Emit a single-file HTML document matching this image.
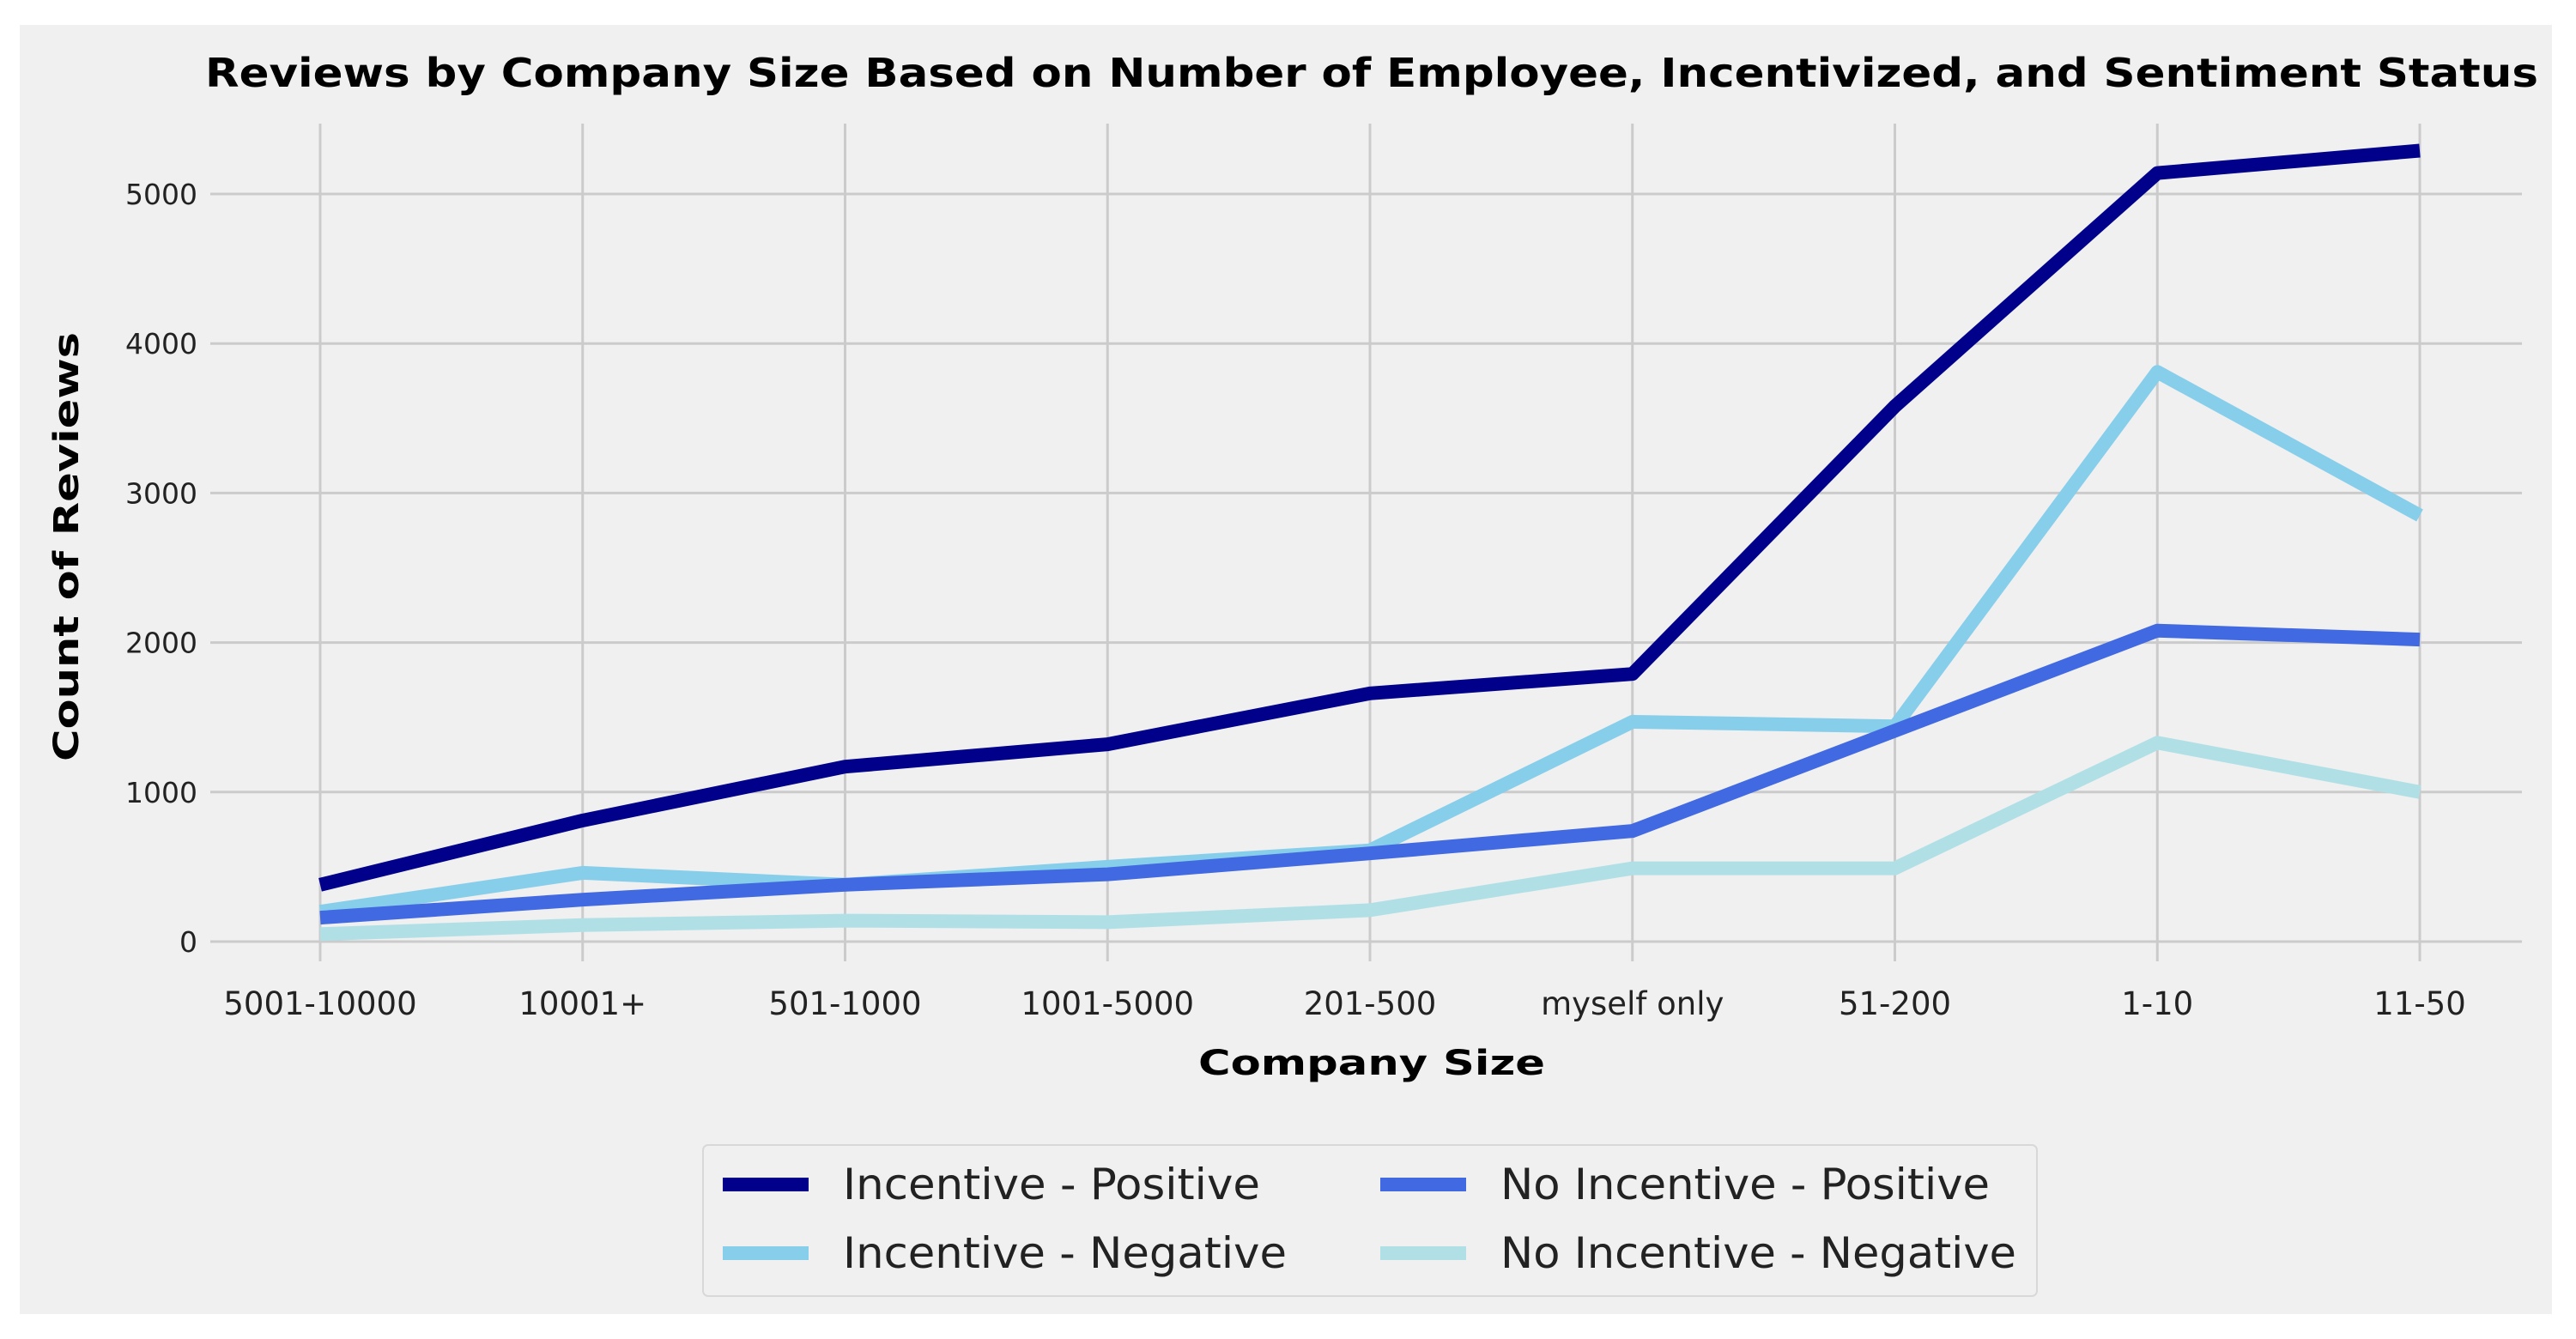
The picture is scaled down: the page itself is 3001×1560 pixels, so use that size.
<!DOCTYPE html>
<html><head><meta charset="utf-8"><style>
html,body{margin:0;padding:0;background:#fff;}
svg{display:block;font-family:"DejaVu Sans","Liberation Sans",sans-serif;}
</style></head><body>
<svg id="chart" width="3001" height="1560" viewBox="0 0 3001 1560">
<rect x="23" y="29" width="2950" height="1502" fill="#f0f0f0"/>
<g id="grid"></g>
<g id="series"></g>
<g id="ticks"></g>
<text x="1598" y="101" text-anchor="middle" font-size="46" font-weight="bold" textLength="2718" lengthAdjust="spacingAndGlyphs">Reviews by Company Size Based on Number of Employee, Incentivized, and Sentiment Status</text>
<text x="1598" y="1252" text-anchor="middle" font-size="40" font-weight="bold" textLength="404" lengthAdjust="spacingAndGlyphs">Company Size</text>
<text transform="translate(91,637) rotate(-90)" text-anchor="middle" font-size="40" font-weight="bold" textLength="500" lengthAdjust="spacingAndGlyphs">Count of Reviews</text>
<g id="legend">
<rect x="819" y="1334" width="1554" height="176" rx="6" fill="#f0f0f0" stroke="#d8d8d8" stroke-width="2"/>
</g>
</svg>
<script>
const categories = ["5001-10000","10001+","501-1000","1001-5000","201-500","myself only","51-200","1-10","11-50"];
const incentivePositive = [380, 810, 1170, 1320, 1660, 1790, 3580, 5140, 5290];
const incentiveNegative = [200, 460, 380, 500, 610, 1470, 1440, 3810, 2850];
const noIncentivePositive = [160, 280, 380, 450, 590, 740, 1410, 2080, 2020];
const noIncentiveNegative = [50, 110, 140, 130, 210, 490, 490, 1330, 1000];
const yTicks = [0, 1000, 2000, 3000, 4000, 5000];
const seriesNames = ["Incentive - Positive","Incentive - Negative","No Incentive - Positive","No Incentive - Negative"];

const NS = "http://www.w3.org/2000/svg";
const X0 = 373, XSTEP = 305.75, Y0 = 1097, YPER = 0.1742;
function xs(i){ return X0 + i*XSTEP; }
function ys(v){ return Y0 - v*YPER; }
function mk(tag, attrs, parent){ const e=document.createElementNS(NS,tag); for(const k in attrs) e.setAttribute(k,attrs[k]); parent.appendChild(e); return e; }

const grid=document.getElementById('grid'), ticks=document.getElementById('ticks'), series=document.getElementById('series'), legend=document.getElementById('legend');
yTicks.forEach(t=>{
  const l=mk('line',{x1:245,x2:2938,y1:ys(t),y2:ys(t),stroke:'#cbcbcb','stroke-width':3},grid);
  
  
  const tx=mk('text',{x:230,y:ys(t)+12,'text-anchor':'end','font-size':33,fill:'#222'},ticks);
  tx.textContent=String(t);
  
  
});
categories.forEach((c,i)=>{
  const l=mk('line',{x1:xs(i),x2:xs(i),y1:144,y2:1120,stroke:'#cbcbcb','stroke-width':3},grid);
  
  
  const tx=mk('text',{x:xs(i),y:1182,'text-anchor':'middle','font-size':37,fill:'#222'},ticks);
  tx.textContent=c;
  
  
});
const data=[incentivePositive,incentiveNegative,noIncentivePositive,noIncentiveNegative];
const colors=['#00008b','#87ceeb','#4169e1','#b0e0e6'];
data.forEach((arr,s)=>{
  const pts=arr.map((v,i)=>xs(i).toFixed(1)+','+ys(v).toFixed(1)).join(' ');
  const p=mk('polyline',{points:pts,fill:'none',stroke:colors[s],'stroke-width':16,'stroke-linejoin':'round','stroke-linecap':'butt'},series);
  
  
});
const legPos=[[842,1380],[842,1460],[1608,1380],[1608,1460]];
const legLen=[486,517,570,601];
seriesNames.forEach((n,s)=>{
  const [lx,ly]=legPos[s];
  const h=mk('line',{x1:lx,x2:lx+100,y1:ly,y2:ly,stroke:colors[s],'stroke-width':16},legend);
  
  
  const t=mk('text',{x:lx+140,y:ly+17,'font-size':50,fill:'#222',textLength:legLen[s],lengthAdjust:'spacingAndGlyphs'},legend);
  t.textContent=n;
  
  
});
</script>
</body></html>
